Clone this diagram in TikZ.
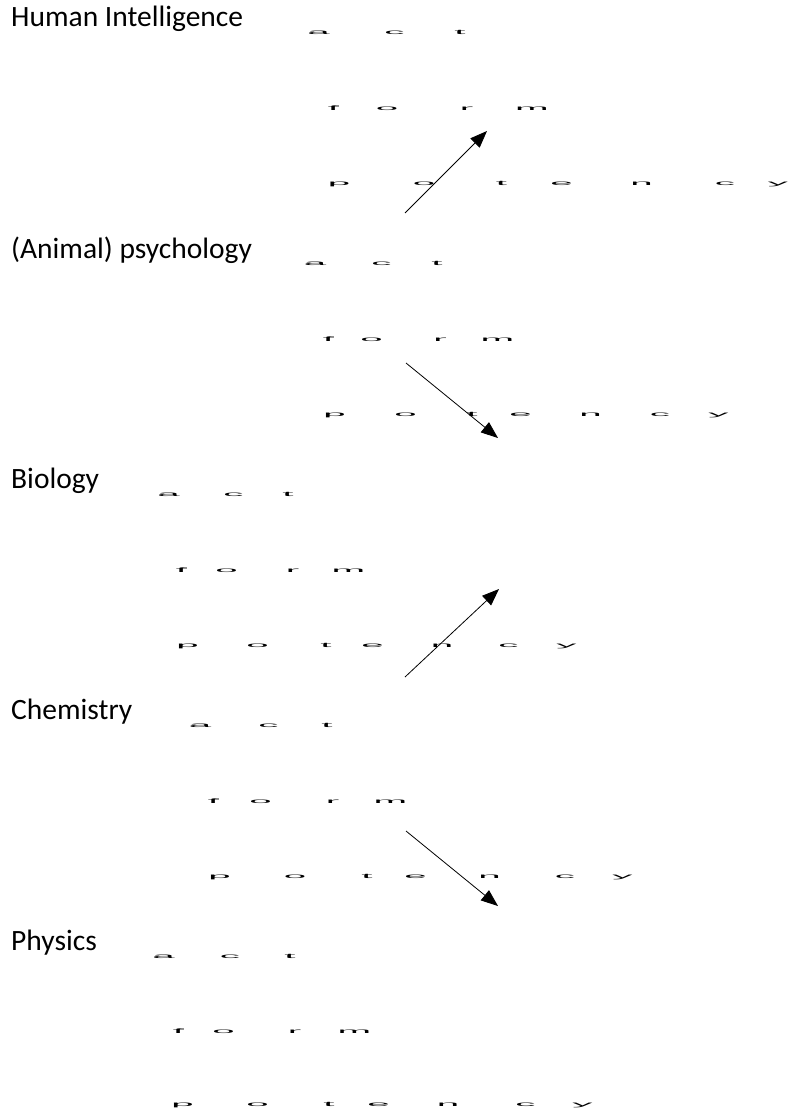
\documentclass[tikz,border=0pt]{standalone}
\usepackage{fontspec}
\usepackage{graphicx}
\setmainfont{Carlito}
\newfontfamily\glyphfont{Liberation Sans}
\usetikzlibrary{arrows.meta}
\newcommand\glyphat[4]{\node[glyph] (#1) at (#2,#3+1.5) {\scalebox{6.2}[1]{#4}};}
\begin{document}
\begin{tikzpicture}[x=1pt,y=-1pt,
  label/.style={anchor=base west,inner sep=0pt,font=\fontsize{29.5}{31}\selectfont},
  glyph/.style={anchor=base,inner sep=0pt,font=\glyphfont\fontsize{6.5}{6.5}\selectfont},
  link/.style={line width=0.8pt,-{Triangle[length=17pt,width=13pt]}}]
\useasboundingbox (0,0) rectangle (791,1110);
% labels
\node[label] (l1) at (11,27) {Human Intelligence};
\node[label] (l2) at (11,258) {(Animal) psychology};
\node[label] (l3) at (11,488) {Biology};
\node[label] (l4) at (11,719) {Chemistry};
\node[label] (l5) at (11,950) {Physics};
% block 1
\glyphat{a1a}{318.5}{33}{a}\glyphat{a1c}{394.5}{33}{c}\glyphat{a1t}{460}{33}{t}
\glyphat{f1f}{333.5}{109}{f}\glyphat{f1o}{387}{109}{o}\glyphat{f1r}{466.5}{109}{r}\glyphat{f1m}{532}{109}{m}
\glyphat{p1p}{339}{184}{p}\glyphat{p1o}{424}{184}{o}\glyphat{p1t}{501.5}{184}{t}\glyphat{p1e}{561.5}{184}{e}\glyphat{p1n}{641.5}{184}{n}\glyphat{p1c}{725}{184}{c}\glyphat{p1y}{778}{184}{y}
% block 2
\glyphat{a2a}{315}{264}{a}\glyphat{a2c}{381.5}{264}{c}\glyphat{a2t}{437}{264}{t}
\glyphat{f2f}{328.5}{340}{f}\glyphat{f2o}{371.5}{340}{o}\glyphat{f2r}{440}{340}{r}\glyphat{f2m}{497.5}{340}{m}
\glyphat{p2p}{334.5}{415}{p}\glyphat{p2o}{405.5}{415}{o}\glyphat{p2t}{472}{415}{t}\glyphat{p2e}{520.5}{415}{e}\glyphat{p2n}{590.5}{415}{n}\glyphat{p2c}{660}{415}{c}\glyphat{p2y}{718.5}{415}{y}
% block 3
\glyphat{a3a}{168.5}{495}{a}\glyphat{a3c}{233.5}{495}{c}\glyphat{a3t}{288}{495}{t}
\glyphat{f3f}{181.5}{571}{f}\glyphat{f3o}{226.5}{571}{o}\glyphat{f3r}{292.5}{571}{r}\glyphat{f3m}{348.5}{571}{m}
\glyphat{p3p}{187.5}{646}{p}\glyphat{p3o}{257.5}{646}{o}\glyphat{p3t}{326}{646}{t}\glyphat{p3e}{372.5}{646}{e}\glyphat{p3n}{442}{646}{n}\glyphat{p3c}{508.5}{646}{c}\glyphat{p3y}{566.5}{646}{y}
% block 4
\glyphat{a4a}{200}{726}{a}\glyphat{a4c}{268.5}{726}{c}\glyphat{a4t}{327}{726}{t}
\glyphat{f4f}{213.5}{802}{f}\glyphat{f4o}{260.5}{802}{o}\glyphat{f4r}{332.5}{802}{r}\glyphat{f4m}{390.5}{802}{m}
\glyphat{p4p}{219.5}{877}{p}\glyphat{p4o}{295}{877}{o}\glyphat{p4t}{367}{877}{t}\glyphat{p4e}{415.5}{877}{e}\glyphat{p4n}{489.5}{877}{n}\glyphat{p4c}{565}{877}{c}\glyphat{p4y}{622.5}{877}{y}
% block 5
\glyphat{a5a}{163.5}{957}{a}\glyphat{a5c}{230}{957}{c}\glyphat{a5t}{290}{957}{t}
\glyphat{f5f}{178.5}{1032}{f}\glyphat{f5o}{223.5}{1032}{o}\glyphat{f5r}{294.5}{1032}{r}\glyphat{f5m}{354.5}{1032}{m}
\glyphat{p5p}{182.5}{1105}{p}\glyphat{p5o}{257.5}{1105}{o}\glyphat{p5t}{329}{1105}{t}\glyphat{p5e}{378.5}{1105}{e}\glyphat{p5n}{448}{1105}{n}\glyphat{p5c}{525.5}{1105}{c}\glyphat{p5y}{582.5}{1105}{y}
% arrows
\coordinate (s1) at (405,213); \coordinate (e1) at (487,131);
\coordinate (s2) at (406,363); \coordinate (e2) at (498,438);
\coordinate (s3) at (405,677); \coordinate (e3) at (499,589);
\coordinate (s4) at (406,831); \coordinate (e4) at (498,906);
\draw[link] (s1) -- (e1);
\draw[link] (s2) -- (e2);
\draw[link] (s3) -- (e3);
\draw[link] (s4) -- (e4);
\end{tikzpicture}
\end{document}
